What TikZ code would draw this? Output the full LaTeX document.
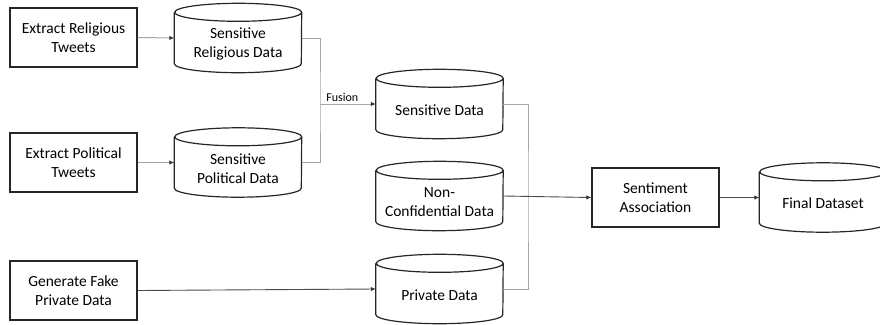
\documentclass[tikz,border=0pt]{standalone}
\usepackage{fontspec}
\setmainfont{Carlito}
\usetikzlibrary{arrows.meta,calc}
\newcommand\cyldb[4]{%
  \node[cylbody] (#1) at (#2,#3) {};
  \node[cyltext] (#1-t) at ([yshift=-6pt]#1.center) {#4};
  \draw[cylline] ([yshift=-9pt]#1.north west) -- ([yshift=9pt]#1.south west)
    arc[start angle=180,end angle=360,x radius=63.5pt,y radius=9pt]
    -- ([yshift=-9pt]#1.north east)
    arc[start angle=0,end angle=180,x radius=63.5pt,y radius=9pt]
    arc[start angle=180,end angle=360,x radius=63.5pt,y radius=9pt];
}
\begin{document}
\begin{tikzpicture}[x=1pt,y=-1pt,
  every node/.style={font=\fontsize{15.5pt}{19pt}\selectfont},
  procbox/.style={draw=black!85,line width=1.3pt,minimum width=127pt,minimum height=59pt,inner sep=0pt,align=center},
  cylbody/.style={minimum width=127pt,minimum height=69pt,inner sep=0pt},
  cyltext/.style={align=center,inner sep=0pt},
  cylline/.style={draw=black!85,line width=1.2pt},
  conlight/.style={draw=black!35,line width=1pt},
  condark/.style={draw=black!70,line width=0.9pt},
  tip/.style={-{Latex[length=5pt,width=4.5pt,fill=black!80,color=black!80]}},
  fuslabel/.style={font=\fontsize{12pt}{14pt}\selectfont,inner sep=2pt}]
\useasboundingbox (0,0) rectangle (880,324);
% process boxes
\node[procbox] (er) at (73.5,37.5) {Extract Religious\\Tweets};
\node[procbox] (ep) at (73.5,162.5) {Extract Political\\Tweets};
\node[procbox] (gf) at (73.5,290.5) {Generate Fake\\Private Data};
\node[procbox] (sa) at (655.5,197.5) {Sentiment\\Association};
% databases
\cyldb{srd}{238}{38}{Sensitive\\Religious Data}
\cyldb{spd}{238}{162.5}{Sensitive\\Political Data}
\cyldb{sd}{439.5}{104}{Sensitive Data}
\cyldb{ncd}{439.5}{196}{Non-\\Confidential Data}
\cyldb{pd}{439.5}{289}{Private Data}
\cyldb{fd}{823}{197.5}{Final Dataset}
% junctions
\coordinate (fj) at (320,104);
\coordinate (cj) at (528,196);
% connectors
\draw[conlight,tip] (er.east) -- (srd.west);
\draw[conlight,tip] (ep.east) -- (spd.west);
\draw[conlight] (srd.east) -| (fj) |- (spd.east);
\draw[conlight,tip] (fj) -- (sd.west) node[fuslabel,pos=0.4,above] (fl) {Fusion};
\draw[conlight] (sd.east) -| (cj) |- (pd.east);
\draw[condark,tip] (ncd.east) -- (sa.west);
\draw[condark,tip] (gf.east) -- (pd.west);
\draw[condark,tip] (sa.east) -- (fd.west);
\end{tikzpicture}
\end{document}
